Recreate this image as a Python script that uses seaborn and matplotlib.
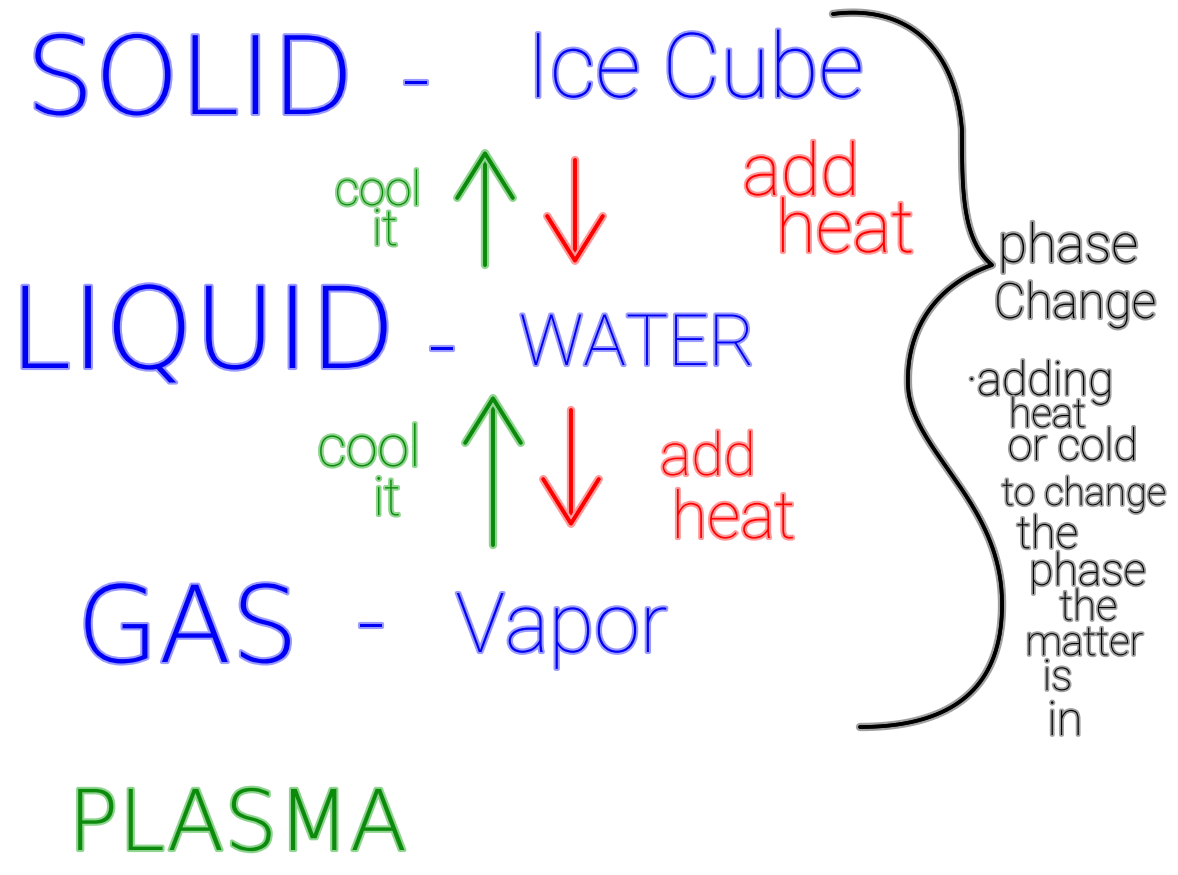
import numpy as np
import pandas as pd
import matplotlib
matplotlib.use("Agg")
import matplotlib.pyplot as plt
import matplotlib.patheffects as pe
import seaborn as sns

# ---------------- content ----------------
states = ["SOLID", "LIQUID", "GAS"]
examples = ["Ice Cube", "WATER", "Vapor"]
cool_words = ["cool", "it"]
heat_words = ["add", "heat"]
extra_state = "PLASMA"
brace_title = ["phase", "Change"]
brace_note = ["·adding", "heat", "or cold", "to change", "the",
              "phase", "the", "matter", "is", "in"]

# brace control points (piecewise cubic Bezier, pixel space)
brace_ctrl_x = [833, 900, 955, 962, 962, 962, 992, 935, 906, 908,
                910, 1000, 1002, 1004, 950, 860]
brace_ctrl_y = [14, 5, 40, 130, 190, 240, 265, 285, 330, 385,
                450, 500, 600, 690, 727, 727]

# ---------------- layout / style ----------------
W, H = 1178, 875
BLUE, BLUE_H = "#0000f5", "#9a9aff"
GREEN, GREEN_H = "#0c8a0c", "#8fd48f"
RED, RED_H = "#ff0000", "#ff9a9a"
BLACK, BLACK_H = "#000000", "#a0a0a0"

sns.set_theme(style="white")
plt.rcParams["font.family"] = ["DejaVu Sans"]

fig = plt.figure(figsize=(W / 100, H / 100), dpi=100)
ax = fig.add_axes([0, 0, 1, 1])
renderer = fig.canvas.get_renderer()

NARROW = ["Roboto", "DejaVu Sans"]
WIDE = ["DejaVu Sans"]
PT = 72 / 100  # points per pixel


def hand_text(s, box, color, halo, family, lw=3.0, weight="light"):
    x0, x1, top, base = box
    t = ax.text((x0 + x1) / 2, base, s, fontsize=40, color=color, family=family,
                ha="center", va="baseline", fontweight=weight)
    w = t.get_window_extent(renderer).width
    fs_w = 40 * (x1 - x0) / w
    fs_h = (base - top) / 0.73 * PT
    t.set_fontsize(min(np.sqrt(fs_w * fs_h), 1.1 * fs_h, 1.08 * fs_w))
    t.set_path_effects([pe.withStroke(linewidth=lw, foreground=halo)])
    return t


def dash(xc, yc, color, halo, fs=60):
    px = fs / PT
    t = ax.text(xc, yc + 0.28 * px, "-", fontsize=fs, color=color,
                ha="center", va="baseline", family=WIDE, fontweight="light")
    t.set_path_effects([pe.withStroke(linewidth=3.0, foreground=halo)])


def arrow(x, y_tail, y_head, color, halo):
    a = ax.annotate("", xy=(x, y_head), xytext=(x, y_tail),
                    arrowprops=dict(arrowstyle="->,head_length=0.8,head_width=0.5",
                                    lw=2.6, color=color, shrinkA=0, shrinkB=0,
                                    mutation_scale=40))
    a.arrow_patch.set_path_effects([pe.withStroke(linewidth=6, foreground=halo),
                                    pe.Normal()])


# brace drawn from Bezier control points
bx, by = [], []
tt = np.linspace(0, 1, 80)
for i in range(0, len(brace_ctrl_x) - 3, 3):
    p = np.array(list(zip(brace_ctrl_x[i:i + 4], brace_ctrl_y[i:i + 4])), float)
    pts = ((1 - tt) ** 3)[:, None] * p[0] + (3 * (1 - tt) ** 2 * tt)[:, None] * p[1] \
        + (3 * (1 - tt) * tt ** 2)[:, None] * p[2] + (tt ** 3)[:, None] * p[3]
    bx.extend(pts[:, 0])
    by.extend(pts[:, 1])
brace_df = pd.DataFrame({"x": bx, "y": by})
sns.lineplot(data=brace_df, x="x", y="y", sort=False, estimator=None,
             color=BLACK, lw=2.6, ax=ax)
ax.lines[-1].set_path_effects([pe.withStroke(linewidth=6, foreground=BLACK_H),
                               pe.Normal()])
ax.set_xlim(0, W)
ax.set_ylim(H, 0)
ax.axis("off")

# states and examples
state_boxes = [(15, 365, 40, 114), (15, 390, 283, 368), (85, 290, 575, 662)]
dash_pos = [(416, 82), (442, 348), (371, 625)]
example_boxes = [(525, 865, 32, 97), (522, 752, 312, 365), (458, 665, 590, 652)]
for s, box in zip(states, state_boxes):
    hand_text(s, box, BLUE, BLUE_H, WIDE)
for (xc, yc) in dash_pos:
    dash(xc, yc, BLUE, BLUE_H)
for s, box in zip(examples, example_boxes):
    hand_text(s, box, BLUE, BLUE_H, NARROW)

# cool it / add heat
cool_boxes = [[(338, 418, 162, 205), (360, 410, 212, 245)],
              [(318, 420, 424, 466), (362, 412, 480, 515)]]
heat_boxes = [[(745, 857, 140, 195), (778, 912, 197, 252)],
              [(660, 756, 432, 475), (672, 795, 490, 538)]]
for boxes in cool_boxes:
    for s, box in zip(cool_words, boxes):
        hand_text(s, box, GREEN, GREEN_H, NARROW)
for boxes in heat_boxes:
    for s, box in zip(heat_words, boxes):
        hand_text(s, box, RED, RED_H, NARROW)

# arrows
arrow(485, 265, 150, GREEN, GREEN_H)
arrow(575, 160, 264, RED, RED_H)
arrow(493, 545, 395, GREEN, GREEN_H)
arrow(571, 410, 527, RED, RED_H)

# plasma
hand_text(extra_state, (65, 410, 790, 850), GREEN, GREEN_H, WIDE)

# brace text
title_boxes = [(1003, 1133, 220, 262), (1000, 1150, 270, 318)]
for s, box in zip(brace_title, title_boxes):
    hand_text(s, box, BLACK, BLACK_H, NARROW)
note_boxes = [(958, 1122, 364, 395), (1000, 1095, 400, 427), (1003, 1143, 430, 460),
              (1008, 1160, 470, 505), (1015, 1080, 517, 548), (1030, 1145, 552, 585),
              (1055, 1122, 592, 620), (1022, 1147, 627, 655), (1040, 1075, 662, 690),
              (1045, 1085, 704, 735)]
for s, box in zip(brace_note, note_boxes):
    hand_text(s, box, BLACK, BLACK_H, NARROW, lw=2.6)

fig.savefig("out.png", dpi=100, facecolor="white")
